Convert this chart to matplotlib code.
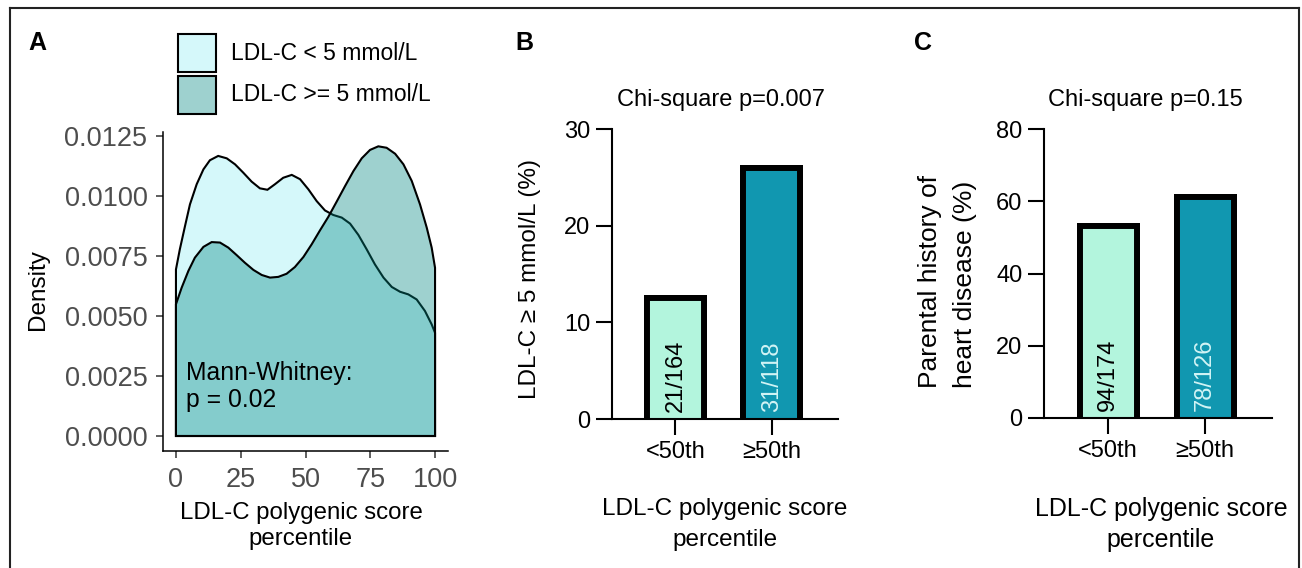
import numpy as np
import matplotlib
matplotlib.use("Agg")
import matplotlib.pyplot as plt
from matplotlib.patches import Polygon, Rectangle
from matplotlib.lines import Line2D

plt.rcParams['font.family'] = ['Liberation Sans', 'DejaVu Sans']

# ---------------- data ----------------
# Panel A: density curves (percentile, density)
low_x = [0, 1.5, 3.5, 5.4, 8.0, 10.6, 13.1, 16.3, 19.6, 22.8, 26.0, 29.2, 32.4, 35.3,
         38.2, 41.4, 44.7, 47.9, 51.1, 54.3, 57.5, 60.7, 64.0, 67.2, 70.4, 73.6, 76.8,
         80.1, 83.3, 86.5, 89.7, 92.9, 96.1, 98.7, 100]
low_y = [0.00694, 0.00778, 0.00875, 0.00965, 0.01049, 0.01111, 0.01149, 0.01167, 0.01157,
         0.01132, 0.01097, 0.01060, 0.01032, 0.01026, 0.01049, 0.01076, 0.01088, 0.01070,
         0.01028, 0.00979, 0.00940, 0.00921, 0.00910, 0.00885, 0.00838, 0.00778, 0.00715,
         0.00660, 0.00621, 0.00601, 0.00590, 0.00569, 0.00521, 0.00465, 0.00430]
high_x = [0, 2.2, 4.8, 7.3, 10.6, 13.8, 17.0, 20.2, 23.4, 26.6, 29.9, 33.1, 36.3, 39.5,
          42.7, 45.9, 49.2, 52.4, 55.6, 58.8, 62.0, 65.3, 68.5, 71.7, 74.9, 78.1, 81.3,
          84.6, 87.8, 91.0, 94.2, 96.8, 98.7, 100]
high_y = [0.00549, 0.00618, 0.00688, 0.00743, 0.00788, 0.00808, 0.00806, 0.00785, 0.00754,
          0.00722, 0.00692, 0.00671, 0.00660, 0.00663, 0.00676, 0.00704, 0.00746, 0.00799,
          0.00857, 0.00913, 0.00976, 0.01042, 0.01104, 0.01157, 0.01192, 0.01207, 0.01201,
          0.01176, 0.01132, 0.01063, 0.00965, 0.00868, 0.00785, 0.00701]
legend_labels = ["LDL-C < 5 mmol/L", "LDL-C >= 5 mmol/L"]
a_xticks = [0, 25, 50, 75, 100]
a_yticks = [0.0, 0.0025, 0.005, 0.0075, 0.01, 0.0125]

# Panels B and C
categories = ["<50th", "\u226550th"]
b_values = [12.8, 26.3]
b_counts = ["21/164", "31/118"]
c_values = [54.0, 61.9]
c_counts = ["94/174", "78/126"]

# ---------------- style ----------------
W, H = 1302, 568
LIGHT = "#D5F8FA"
DARK = (0.0, 0.525, 0.506)
MINT = "#B3F5DD"
TEAL = "#1197B0"


def fx(px):
    return px / W


def fy(py):
    return 1 - py / H


fig = plt.figure(figsize=(W / 100, H / 100), dpi=100)
fig.patch.set_facecolor("white")

# outer frame (top, left, right)
for xs, ys in [((10, 1299), (8, 8)), ((10, 10), (8, 568)), ((1299, 1299), (8, 568))]:
    fig.add_artist(Line2D([fx(xs[0]), fx(xs[1])], [fy(ys[0]), fy(ys[1])],
                          transform=fig.transFigure, color="#222222", lw=1.5))

# ---------------- Panel A ----------------
axA = fig.add_axes([fx(163), fy(451), fx(448) - fx(163), fy(132) - fy(451)])
axA.set_xlim(-5, 105)
axA.set_ylim(-0.000625, 0.012667)

poly_low = Polygon(np.column_stack([low_x + [low_x[-1], low_x[0]], low_y + [0, 0]]),
                   closed=True, facecolor=LIGHT, edgecolor="black", lw=1.5, zorder=2)
poly_high = Polygon(np.column_stack([high_x + [high_x[-1], high_x[0]], high_y + [0, 0]]),
                    closed=True, facecolor=DARK + (0.38,), edgecolor="black", lw=1.5, zorder=3)
axA.add_patch(poly_low)
axA.add_patch(poly_high)

for s in ["top", "right"]:
    axA.spines[s].set_visible(False)
for s in ["left", "bottom"]:
    axA.spines[s].set_linewidth(1.1)
    axA.spines[s].set_color("black")
axA.set_xticks(a_xticks)
axA.set_xticklabels([str(v) for v in a_xticks])
axA.set_yticks(a_yticks)
axA.set_yticklabels(["%.4f" % v for v in a_yticks])
axA.tick_params(axis="both", length=5, width=1.1, color="#333333", labelcolor="#4D4D4D",
                labelsize=19.5, pad=6.2)

fig.text(fx(186), fy(380), "Mann-Whitney:", fontsize=17.8, ha="left", va="baseline", zorder=5)
fig.text(fx(186), fy(407), "p = 0.02", fontsize=17.8, ha="left", va="baseline", zorder=5)

fig.text(fx(38), fy(290), "Density", rotation=90, ha="center", va="center", fontsize=17.5)
fig.text(fx(301), fy(513), "LDL-C polygenic score", ha="center", va="center", fontsize=17.3)
fig.text(fx(301), fy(539), "percentile", ha="center", va="center", fontsize=17.3)

# legend boxes
for i, (lab, fc) in enumerate(zip(legend_labels, [LIGHT, DARK + (0.38,)])):
    top = 34 + i * 42
    fig.add_artist(Rectangle((fx(178), fy(top + 38)), fx(216) - fx(178), fy(top) - fy(top + 38),
                             transform=fig.transFigure, facecolor=fc, edgecolor="black", lw=1.5))
    fig.text(fx(231), fy(top + 19), lab, ha="left", va="center", fontsize=16.5)

fig.text(fx(28), fy(43), "A", ha="left", va="center", fontsize=18, fontweight="bold")
fig.text(fx(515), fy(43), "B", ha="left", va="center", fontsize=18, fontweight="bold")
fig.text(fx(914), fy(43), "C", ha="left", va="center", fontsize=18, fontweight="bold")


# ---------------- Panels B, C ----------------
def bar_panel(rect, values, counts, ymax, yticks, title, title_x, xlab_x, xlab_size):
    ax = fig.add_axes(rect)
    pos = np.arange(len(categories))
    bars = ax.bar(pos, values, width=0.65, color=[MINT, TEAL], edgecolor="none", zorder=2)
    # border drawn inside the bar (top and sides only)
    for b in bars:
        x0, w, h = b.get_x(), b.get_width(), b.get_height()
        ln, = ax.plot([x0, x0, x0 + w, x0 + w], [0, h, h, 0], color="black", lw=8.6,
                      solid_joinstyle="miter", zorder=2.5)
        ln.set_clip_path(b)
    ax.set_xlim(-0.66, 1.69)
    ax.set_ylim(0, ymax)
    for s in ["top", "right"]:
        ax.spines[s].set_visible(False)
    for s in ["left", "bottom"]:
        ax.spines[s].set_linewidth(1.5)
        ax.spines[s].set_zorder(3)
    ax.set_xticks(pos)
    ax.set_xticklabels(categories)
    ax.set_yticks(yticks)
    ax.tick_params(axis="both", length=11.5, width=1.5, labelsize=17, pad=4)
    for p, txt, col in zip(pos, counts, ["black", "#D2F4F5"]):
        ax.annotate(txt, xy=(p, 0), xytext=(0, 5), textcoords="offset points",
                    rotation=90, ha="center", va="bottom", fontsize=17, color=col, zorder=4)
    fig.text(fx(title_x), fy(100), title, ha="center", va="center", fontsize=17)
    fig.text(fx(xlab_x), fy(509), "LDL-C polygenic score", ha="center", va="center",
             fontsize=xlab_size)
    fig.text(fx(xlab_x), fy(540), "percentile", ha="center", va="center", fontsize=xlab_size)
    return ax


bar_panel([fx(612), fy(419), fx(838) - fx(612), fy(129) - fy(419)], b_values, b_counts, 30,
          [0, 10, 20, 30], "Chi-square p=0.007", 721, 725, 17.5)
bar_panel([fx(1044), fy(418), fx(1272) - fx(1044), fy(129) - fy(418)], c_values, c_counts, 80,
          [0, 20, 40, 60, 80], "Chi-square p=0.15", 1145, 1161, 18)

fig.text(fx(530), fy(279), "LDL-C \u2265 5 mmol/L (%)", rotation=90, ha="center", va="center",
         fontsize=17.5)
fig.text(fx(930), fy(388), "Parental history of", rotation=90, ha="center", va="bottom",
         fontsize=19)
fig.text(fx(965), fy(388), "heart disease (%)", rotation=90, ha="center", va="bottom",
         fontsize=19)

fig.savefig("out.png", dpi=100)
